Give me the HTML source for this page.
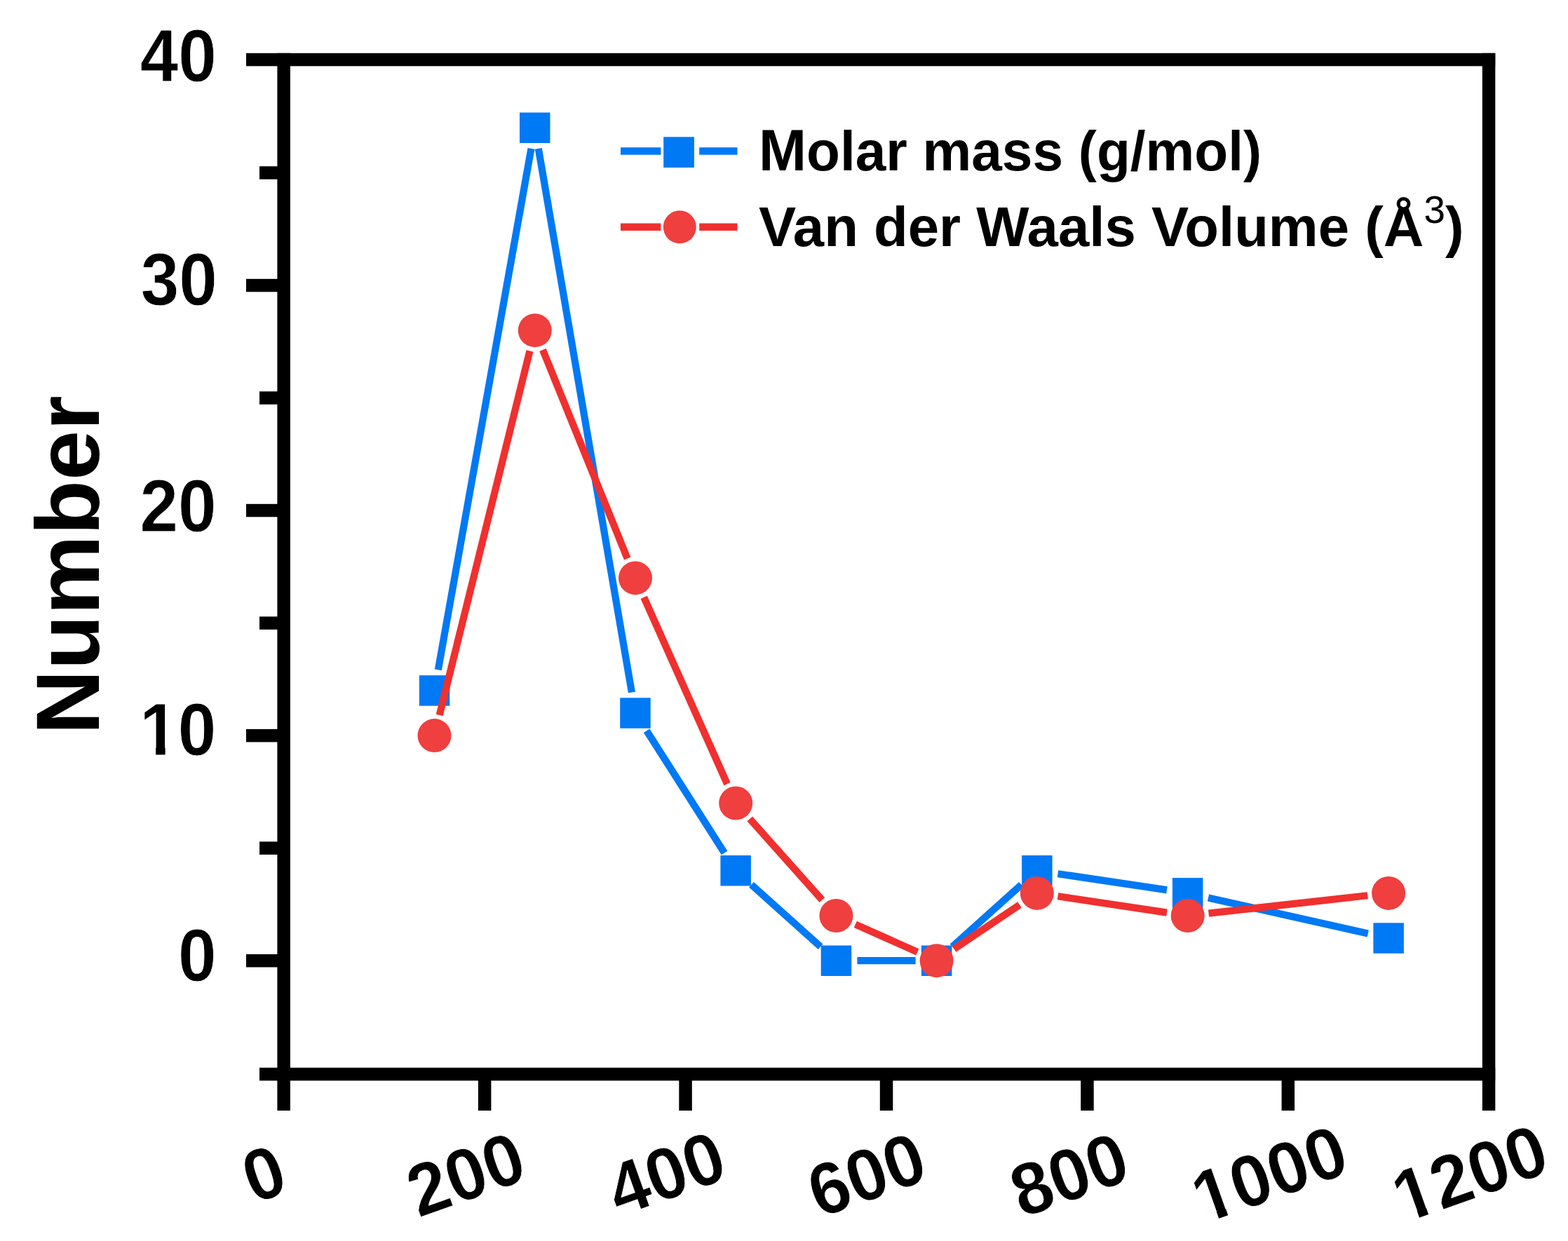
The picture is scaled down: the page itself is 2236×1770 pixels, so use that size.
<!DOCTYPE html>
<html><head><meta charset="utf-8"><title>Number of molecules by molar mass and van der Waals volume</title>
<style>html,body{margin:0;padding:0;background:#fff;width:2236px;height:1770px;overflow:hidden}svg{display:block}</style>
</head><body>
<svg width="2236" height="1770" viewBox="0 0 2236 1770">
<rect width="2236" height="1770" fill="#fff"/>
<g fill="#000">
<rect x="395.4" y="75.8" width="18.5" height="1508.2"/>
<rect x="2113.8" y="75.8" width="18.5" height="1508.2"/>
<rect x="351" y="75.8" width="1781.2" height="18.5"/>
<rect x="370" y="1522.8" width="1762.2" height="18.5"/>
<rect x="351" y="397.8" width="53.7" height="18.5"/>
<rect x="351" y="718.8" width="53.7" height="18.5"/>
<rect x="351" y="1039.9" width="53.7" height="18.5"/>
<rect x="351" y="1361.0" width="53.7" height="18.5"/>
<rect x="370" y="237.2" width="34.7" height="18.5"/>
<rect x="370" y="558.3" width="34.7" height="18.5"/>
<rect x="370" y="879.4" width="34.7" height="18.5"/>
<rect x="370" y="1200.4" width="34.7" height="18.5"/>
<rect x="681.9" y="1532.0" width="18.5" height="52.0"/>
<rect x="968.3" y="1532.0" width="18.5" height="52.0"/>
<rect x="1254.8" y="1532.0" width="18.5" height="52.0"/>
<rect x="1541.2" y="1532.0" width="18.5" height="52.0"/>
<rect x="1827.6" y="1532.0" width="18.5" height="52.0"/>
</g>
<g transform="translate(199.73,115.76) rotate(0) scale(0.935,1)">
<text x="0" y="0" font-family="Liberation Sans, sans-serif" font-weight="bold" font-size="104.8" fill="#000" stroke="#fff" stroke-width="0.8">40</text>
</g>
<g transform="translate(200.73,435.32) rotate(0) scale(0.935,1)">
<text x="0" y="0" font-family="Liberation Sans, sans-serif" font-weight="bold" font-size="104.8" fill="#000" stroke="#fff" stroke-width="0.8">30</text>
</g>
<g transform="translate(199.53,757.88) rotate(0) scale(0.935,1)">
<text x="0" y="0" font-family="Liberation Sans, sans-serif" font-weight="bold" font-size="104.8" fill="#000" stroke="#fff" stroke-width="0.8">20</text>
</g>
<g transform="translate(199.33,1076.84) rotate(0) scale(0.935,1)">
<text x="0" y="0" font-family="Liberation Sans, sans-serif" font-weight="bold" font-size="104.8" fill="#000" stroke="#fff" stroke-width="0.8">10</text>
<rect x="4.86" y="-11.05" width="19.60" height="12.59" fill="#fff"/>
<rect x="38.84" y="-11.05" width="18.22" height="12.59" fill="#fff"/>
</g>
<g transform="translate(253.92,1399.30) rotate(0) scale(0.935,1)">
<text x="0" y="0" font-family="Liberation Sans, sans-serif" font-weight="bold" font-size="104.8" fill="#000" stroke="#fff" stroke-width="0.8">0</text>
</g>
<g transform="translate(361.72,1717.47) rotate(-19.5) scale(0.965,1)">
<text x="0" y="0" font-family="Liberation Sans, sans-serif" font-weight="bold" font-size="104.8" fill="#000" stroke="#fff" stroke-width="0.8">0</text>
</g>
<g transform="translate(596.75,1736.95) rotate(-19.5) scale(0.965,1)">
<text x="0" y="0" font-family="Liberation Sans, sans-serif" font-weight="bold" font-size="104.8" fill="#000" stroke="#fff" stroke-width="0.8">200</text>
</g>
<g transform="translate(882.39,1735.75) rotate(-19.5) scale(0.965,1)">
<text x="0" y="0" font-family="Liberation Sans, sans-serif" font-weight="bold" font-size="104.8" fill="#000" stroke="#fff" stroke-width="0.8">400</text>
</g>
<g transform="translate(1168.33,1737.65) rotate(-19.5) scale(0.965,1)">
<text x="0" y="0" font-family="Liberation Sans, sans-serif" font-weight="bold" font-size="104.8" fill="#000" stroke="#fff" stroke-width="0.8">600</text>
</g>
<g transform="translate(1457.17,1737.55) rotate(-19.5) scale(0.965,1)">
<text x="0" y="0" font-family="Liberation Sans, sans-serif" font-weight="bold" font-size="104.8" fill="#000" stroke="#fff" stroke-width="0.8">800</text>
</g>
<g transform="translate(1716.10,1746.23) rotate(-19.5) scale(0.965,1)">
<text x="0" y="0" font-family="Liberation Sans, sans-serif" font-weight="bold" font-size="104.8" fill="#000" stroke="#fff" stroke-width="0.8">1000</text>
<rect x="4.86" y="-11.05" width="19.60" height="12.59" fill="#fff"/>
<rect x="38.84" y="-11.05" width="18.22" height="12.59" fill="#fff"/>
</g>
<g transform="translate(2001.94,1745.03) rotate(-19.5) scale(0.965,1)">
<text x="0" y="0" font-family="Liberation Sans, sans-serif" font-weight="bold" font-size="104.8" fill="#000" stroke="#fff" stroke-width="0.8">1200</text>
<rect x="4.86" y="-11.05" width="19.60" height="12.59" fill="#fff"/>
<rect x="38.84" y="-11.05" width="18.22" height="12.59" fill="#fff"/>
</g>
<text transform="translate(140.9,805.9) rotate(-90)" x="0" y="0" text-anchor="middle" font-family="Liberation Sans, sans-serif" font-weight="bold" font-size="128" fill="#000">Number</text>
<g stroke="#0079F5" stroke-width="10.2" stroke-linecap="butt" fill="none">
<line x1="624.8" y1="955.4" x2="757.5" y2="211.8"/>
<line x1="767.8" y1="211.8" x2="900.9" y2="987.5"/>
<line x1="922.1" y1="1042.3" x2="1033.1" y2="1216.5"/>
<line x1="1071.5" y1="1261.8" x2="1170.1" y2="1350.2"/>
<line x1="1222.4" y1="1370.2" x2="1305.6" y2="1370.2"/>
<line x1="1358.0" y1="1350.2" x2="1456.5" y2="1261.8"/>
<line x1="1508.5" y1="1246.2" x2="1664.0" y2="1269.4"/>
<line x1="1723.0" y1="1280.4" x2="1950.8" y2="1331.5"/>
</g>
<g fill="#0079F5">
<rect x="597.8" y="963.2" width="43.5" height="43.5"/>
<rect x="741.0" y="160.5" width="43.5" height="43.5"/>
<rect x="884.2" y="995.3" width="43.5" height="43.5"/>
<rect x="1027.4" y="1220.0" width="43.5" height="43.5"/>
<rect x="1170.7" y="1348.5" width="43.5" height="43.5"/>
<rect x="1313.9" y="1348.5" width="43.5" height="43.5"/>
<rect x="1457.1" y="1220.0" width="43.5" height="43.5"/>
<rect x="1671.9" y="1252.1" width="43.5" height="43.5"/>
<rect x="1958.4" y="1316.3" width="43.5" height="43.5"/>
</g>
<g stroke="#F0302F" stroke-width="10.2" stroke-linecap="butt" fill="none">
<line x1="626.7" y1="1020.0" x2="755.5" y2="500.4"/>
<line x1="774.0" y1="499.0" x2="894.7" y2="796.6"/>
<line x1="918.2" y1="851.8" x2="1037.0" y2="1118.1"/>
<line x1="1069.2" y1="1167.8" x2="1172.4" y2="1283.6"/>
<line x1="1219.8" y1="1318.3" x2="1308.3" y2="1357.9"/>
<line x1="1360.5" y1="1353.5" x2="1454.0" y2="1290.6"/>
<line x1="1508.5" y1="1278.3" x2="1664.0" y2="1301.6"/>
<line x1="1723.5" y1="1302.6" x2="1950.3" y2="1277.2"/>
</g>
<g fill="#EF3F3F">
<circle cx="619.5" cy="1049.1" r="24"/>
<circle cx="762.8" cy="471.2" r="24"/>
<circle cx="906.0" cy="824.4" r="24"/>
<circle cx="1049.2" cy="1145.5" r="24"/>
<circle cx="1192.4" cy="1306.0" r="24"/>
<circle cx="1335.6" cy="1370.2" r="24"/>
<circle cx="1478.8" cy="1273.9" r="24"/>
<circle cx="1693.7" cy="1306.0" r="24"/>
<circle cx="1980.1" cy="1273.9" r="24"/>
</g>
<g stroke-width="10.5" stroke-linecap="butt">
<line x1="885" y1="215.5" x2="942.4" y2="215.5" stroke="#0079F5"/>
<line x1="997.2" y1="215.5" x2="1051.5" y2="215.5" stroke="#0079F5"/>
<line x1="885" y1="323.8" x2="942.4" y2="323.8" stroke="#F0302F"/>
<line x1="997.2" y1="323.8" x2="1051.5" y2="323.8" stroke="#F0302F"/>
</g>
<rect x="946.2" y="195.3" width="43.7" height="43.7" fill="#0079F5"/>
<circle cx="969.3" cy="323.8" r="23.5" fill="#EF3F3F"/>
<g transform="translate(1082,242.8) scale(0.98,1)"><text x="0" y="0" font-family="Liberation Sans, sans-serif" font-weight="bold" font-size="80" fill="#000"><tspan font-size="83.3">M</tspan>olar mass (g/mol)</text></g>
<g transform="translate(1082,351.2) scale(0.997,1)"><text x="0" y="0" font-family="Liberation Sans, sans-serif" font-weight="bold" font-size="80" fill="#000">Van der Waals Volume (Å<tspan font-weight="normal" font-size="55" dy="-33">3</tspan><tspan dy="33">)</tspan></text></g>
</svg>
</body></html>
